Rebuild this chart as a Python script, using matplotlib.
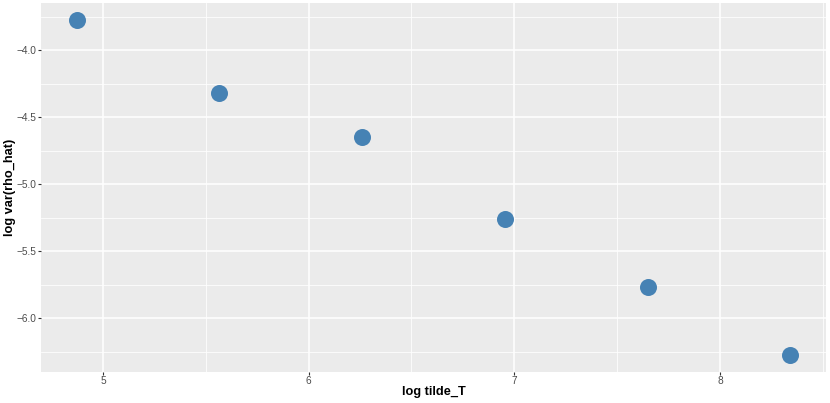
import matplotlib.pyplot as plt
import numpy as np

plt.rcParams['font.family'] = ['Liberation Sans', 'DejaVu Sans']

# values
log_tilde_T = [4.874, 5.564, 6.258, 6.954, 7.650, 8.340]
log_var_rho_hat = [-3.776, -4.321, -4.649, -5.261, -5.769, -6.276]

x_ticks = [5, 6, 7, 8]
y_ticks = [-4.0, -4.5, -5.0, -5.5, -6.0]

fig = plt.figure(figsize=(8.3, 4.03), dpi=100)
# panel box in pixels: left 41, right 826, top 3, bottom 372
ax = fig.add_axes([41 / 830, (403 - 372) / 403, (826 - 41) / 830, (372 - 3) / 403])

ax.set_facecolor('#EBEBEB')
for s in ax.spines.values():
    s.set_visible(False)

ax.set_xticks(x_ticks)
ax.set_xticklabels([str(t) for t in x_ticks])
ax.set_yticks(y_ticks)
ax.set_yticklabels([f'{t:.1f}'.replace('-', '\u2212') for t in y_ticks])
ax.set_xticks(np.arange(4.5, 9.0, 1.0), minor=True)
ax.set_yticks(np.arange(-6.25, -3.6, 0.5), minor=True)

# limits after the ticks, otherwise set_xticks widens them
ax.set_xlim(4.699, 8.515)
ax.set_ylim(-6.403, -3.649)

ax.grid(which='major', color='white', linewidth=1.1)
ax.grid(which='minor', color='white', linewidth=0.55)
ax.set_axisbelow(True)

ax.tick_params(which='major', length=2.2, width=0.8, color='#333333',
               labelsize=7.3, labelcolor='#4D4D4D', pad=1.0)
ax.tick_params(which='minor', length=0)

ax.scatter(log_tilde_T, log_var_rho_hat, s=150, color='steelblue', zorder=3, linewidths=0)

ax.set_xlabel('log tilde_T', fontsize=9.2, fontweight='bold', labelpad=0)
ax.set_ylabel('log var(rho_hat)', fontsize=9.2, fontweight='bold', labelpad=0.5)

fig.savefig('out.png', dpi=100)
